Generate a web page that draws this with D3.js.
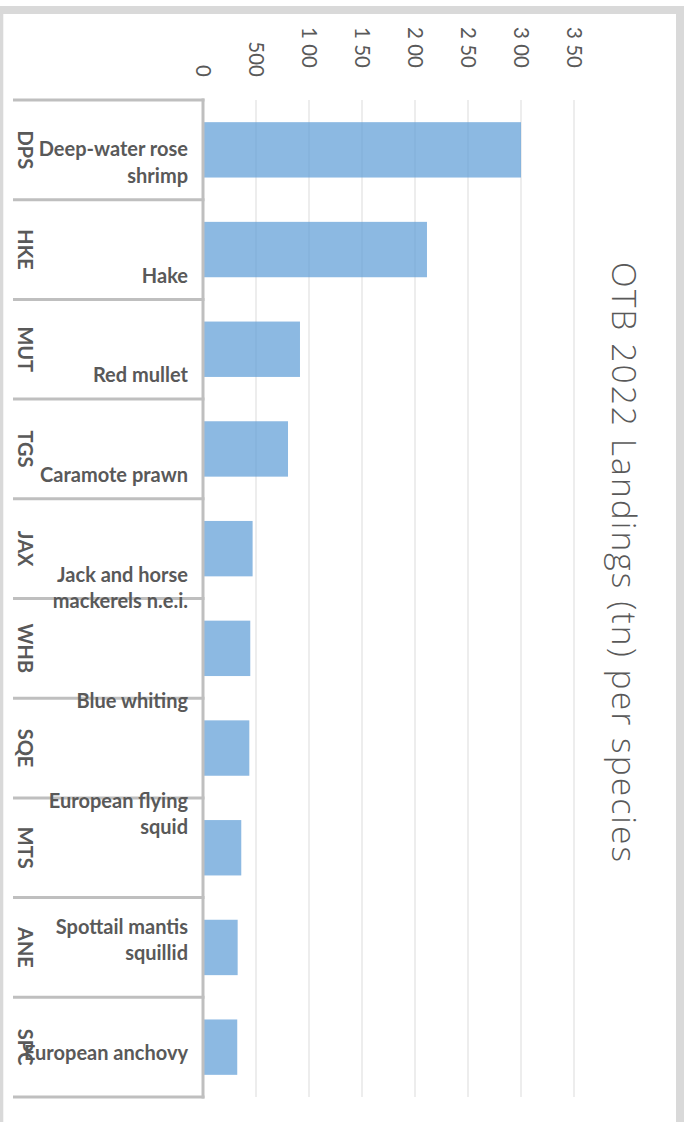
<!DOCTYPE html>
<html>
<head>
<meta charset="utf-8">
<script src="https://cdn.jsdelivr.net/npm/d3@7"></script>
<style>
html,body{margin:0;padding:0;background:#fff;overflow:hidden}
text{font-family:Lato,"Open Sans",sans-serif}
</style>
</head>
<body>
<svg id="chart" width="687" height="1122"></svg>
<script>
// ---- data ----
const categories = ["DPS","HKE","MUT","TGS","JAX","WHB","SQE","MTS","ANE","SPC"];
const speciesNames = ["Deep-water rose shrimp","Hake","Red mullet","Caramote prawn",
  "Jack and horse mackerels n.e.i.","Blue whiting","European flying squid",
  "Spottail mantis squillid","European anchovy"];
const landings = [3000, 2113, 915, 802, 468, 446, 437, 361, 327, 323];
const tickValues = [0, 500, 1000, 1500, 2000, 2500, 3000, 3500];
const tickLabels = ["0", "500", "1 00", "1 50", "2 00", "2 50", "3 00", "3 50"];
const chartTitle = "OTB 2022 Landings (tn) per species";

// ---- layout ----
const svg = d3.select("#chart");
const W = 687, H = 1122;
const plot = {left: 203, right: 574, top: 100, bottom: 1097};
const textColor = "#595959";

// frame
svg.append("rect").attr("x", -10).attr("y", 6).attr("width", 694).attr("height", H + 20).attr("fill", "#d9d9d9");
svg.append("rect").attr("x", 3.3).attr("y", 14).attr("width", 672.7).attr("height", H + 20).attr("fill", "#fff");

const x = d3.scaleLinear().domain([0, 3500]).range([plot.left, plot.right]);
const y = d3.scaleBand().domain(categories).range([plot.top, plot.bottom]).paddingInner(0).paddingOuter(0);
const bw = y.bandwidth();
const barH = bw / 1.8;

// gridlines
svg.append("g")
  .selectAll("line").data(tickValues.filter(v => v > 0)).join("line")
  .attr("x1", d => x(d)).attr("x2", d => x(d))
  .attr("y1", plot.top).attr("y2", plot.bottom)
  .attr("stroke", "#ebebeb").attr("stroke-width", 1.8);

// tick labels (value axis, rotated)
const xAxis = d3.axisTop(x).tickValues(tickValues)
  .tickFormat((d, i) => tickLabels[i]).tickSize(0).tickPadding(0);
const gx = svg.append("g").attr("transform", `translate(0,77)`).call(xAxis);
gx.select(".domain").remove();
gx.selectAll("text")
  .attr("fill", textColor)
  .style("font-size", "20.5px")
  .style("font-family", "Lato, sans-serif")
  .attr("text-anchor", "end")
  .attr("y", 0)
  .attr("dy", "0.35em")
  .attr("transform", (d, i) => `translate(0,${tickLabels[i].length > 3 ? -9 : 0}) rotate(90)`);

// bars
svg.append("g")
  .selectAll("rect").data(categories).join("rect")
  .attr("x", x(0))
  .attr("y", d => y(d) + (bw - barH) / 2)
  .attr("width", (d, i) => x(landings[i]) - x(0))
  .attr("height", barH)
  .attr("fill", "#5b9bd5")
  .attr("fill-opacity", 0.7);

// category axis lines
const axisG = svg.append("g").attr("stroke", "#bfbfbf").attr("stroke-width", 3);
const bounds = categories.map(c => y(c)).concat([y(categories[categories.length - 1]) + bw]);
axisG.selectAll("line.b").data(bounds).join("line")
  .attr("x1", 13).attr("x2", plot.left + 1.5)
  .attr("y1", d => d).attr("y2", d => d);
axisG.append("line")
  .attr("x1", plot.left).attr("x2", plot.left)
  .attr("y1", plot.top - 1.5).attr("y2", plot.bottom + 1.5);

// codes (outer level, rotated)
svg.append("g").selectAll("text").data(categories).join("text")
  .attr("transform", d => `translate(18,${y(d) + bw / 2}) rotate(90)`)
  .attr("text-anchor", "middle")
  .attr("fill", textColor)
  .style("font-size", "20px").style("font-weight", 700)
  .text(d => d);

// species names (inner level), wrapped and stacked
const nameG = svg.append("g");
const lineH = 26.5, maxW = 190;
const measure = nameG.append("text").style("font-size", "20px").style("font-weight", 700);
function wrap(str) {
  const words = str.split(" ");
  const lines = [];
  let cur = "";
  for (const w of words) {
    const test = cur ? cur + " " + w : w;
    measure.text(test);
    if (measure.node().getComputedTextLength() > maxW && cur) { lines.push(cur); cur = w; }
    else cur = test;
  }
  if (cur) lines.push(cur);
  return lines;
}
const wrapped = speciesNames.map(wrap);
measure.remove();
let extra = 0;
wrapped.forEach((lines, i) => {
  const base = y(categories[i]) + bw / 2 + 6.5 + extra * lineH;
  const t = nameG.append("text")
    .attr("text-anchor", "end")
    .attr("fill", textColor)
    .style("font-size", "20px").style("font-weight", 700);
  lines.forEach((ln, j) => {
    t.append("tspan").attr("x", 188).attr("y", base + j * lineH).text(ln);
  });
  extra += lines.length - 1;
});

// title
svg.append("text")
  .attr("transform", `translate(612,562) rotate(90)`)
  .attr("text-anchor", "middle")
  .attr("fill", textColor)
  .style("font-family", "'Open Sans', sans-serif")
  .style("font-size", "33.5px").style("font-weight", 300)
  .attr("textLength", 600).attr("lengthAdjust", "spacing")
  .text(chartTitle);
</script>
</body>
</html>
